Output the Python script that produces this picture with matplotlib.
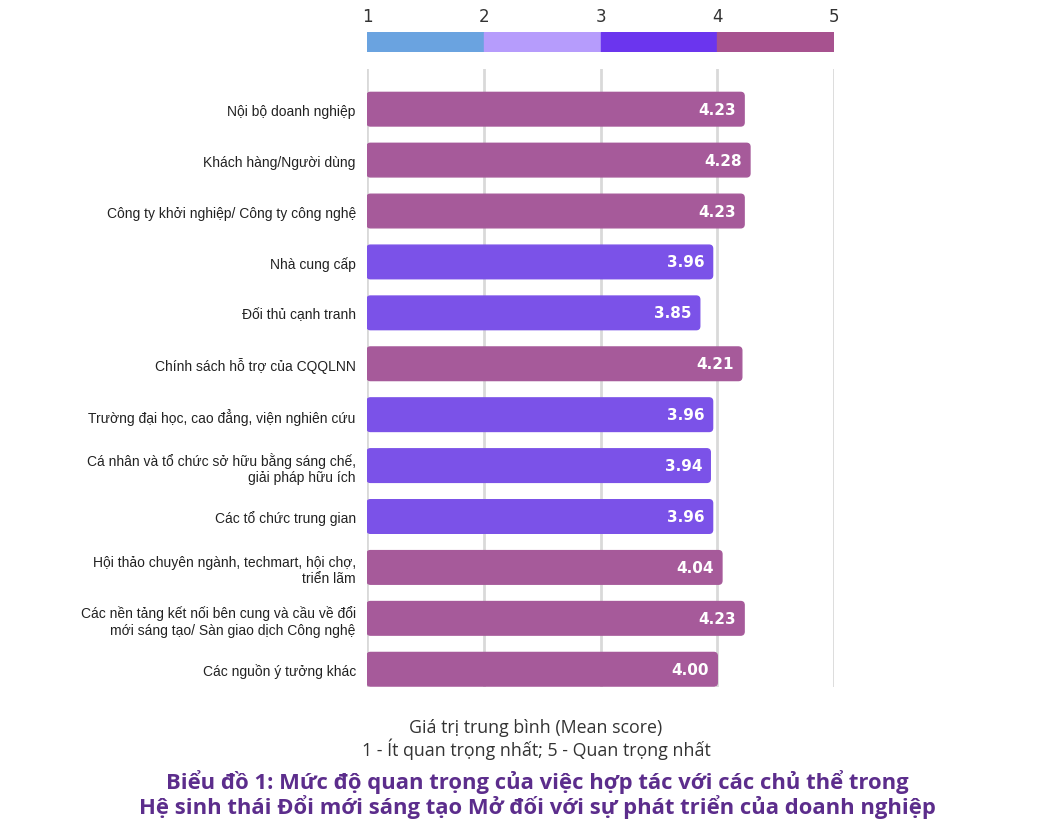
import matplotlib.pyplot as plt
from matplotlib.patches import Rectangle, FancyBboxPatch

categories = [
    "Nội bộ doanh nghiệp",
    "Khách hàng/Người dùng",
    "Công ty khởi nghiệp/ Công ty công nghệ",
    "Nhà cung cấp",
    "Đối thủ cạnh tranh",
    "Chính sách hỗ trợ của CQQLNN",
    "Trường đại học, cao đẳng, viện nghiên cứu",
    "Cá nhân và tổ chức sở hữu bằng sáng chế,\ngiải pháp hữu ích",
    "Các tổ chức trung gian",
    "Hội thảo chuyên ngành, techmart, hội chợ,\ntriển lãm",
    "Các nền tảng kết nối bên cung và cầu về đổi\nmới sáng tạo/ Sàn giao dịch Công nghệ",
    "Các nguồn ý tưởng khác",
]
scores = [4.23, 4.28, 4.23, 3.96, 3.85, 4.21, 3.96, 3.94, 3.96, 4.04, 4.23, 4.00]

scale_ticks = [1, 2, 3, 4, 5]
scale_colors = ["#6aa3e0", "#b69cfc", "#6b35ee", "#a7528f"]
bar_colors = {3: "#7b52e8", 4: "#a65a9a"}

fig = plt.figure(figsize=(10.47, 8.28), dpi=100)

# main bar chart
ax = fig.add_axes([0.3505, 0.169, 0.4461, 0.7465])
y = list(range(len(categories)))
colors = [bar_colors[int(s)] for s in scores]
bars = ax.barh(y, [s - 1 for s in scores], left=1, height=0.66, color=colors, zorder=3)
# swap plain rectangles for slightly rounded ones
for b in bars:
    x0, y0, w, h = b.get_x(), b.get_y(), b.get_width(), b.get_height()
    ax.add_patch(FancyBboxPatch((x0, y0), w, h,
                                boxstyle="round,pad=0,rounding_size=0.03",
                                mutation_aspect=2.3, color=b.get_facecolor(), zorder=3))
    b.set_visible(False)
for yi, s in zip(y, scores):
    ax.text(s - 0.07, yi, f"{s:.2f}", ha="right", va="center", color="white",
            fontsize=11, fontweight="bold", zorder=4)
ax.set_xlim(1, 5)
ax.set_ylim(11.35, -0.79)
ax.set_xticks(scale_ticks)
ax.xaxis.grid(True, color="#d9d9d9", linewidth=2, zorder=0)
ax.set_xticklabels([])
ax.tick_params(axis="x", length=0)
ax.set_yticks(y)
ax.set_yticklabels(categories, fontsize=10, family="Liberation Sans", color="#222222")
ax.tick_params(axis="y", length=0, pad=8)
for sp in ax.spines.values():
    sp.set_visible(False)

# colour scale legend at top
lax = fig.add_axes([0.3505, 0.936, 0.4461, 0.024])
for i, c in enumerate(scale_colors):
    lax.add_patch(Rectangle((scale_ticks[i], 0), 1, 1, color=c))
lax.set_xlim(1, 5)
lax.set_ylim(0, 1)
lax.set_yticks([])
lax.set_xticks(scale_ticks)
lax.xaxis.tick_top()
lax.tick_params(axis="x", length=0, pad=5, labelsize=12, labelcolor="#333333")
for sp in lax.spines.values():
    sp.set_visible(False)

fig.text(0.512, 0.107, "Giá trị trung bình (Mean score)\n1 - Ít quan trọng nhất; 5 - Quan trọng nhất",
         ha="center", va="center", fontsize=12.8, family="Open Sans", color="#333333",
         linespacing=1.1)
fig.text(0.513, 0.040,
         "Biểu đồ 1: Mức độ quan trọng của việc hợp tác với các chủ thể trong\n"
         "Hệ sinh thái Đổi mới sáng tạo Mở đối với sự phát triển của doanh nghiệp",
         ha="center", va="center", fontsize=15.8, fontweight="bold", family="Open Sans",
         color="#5c2d8c", linespacing=1.05)

fig.savefig("out.png", dpi=100)
